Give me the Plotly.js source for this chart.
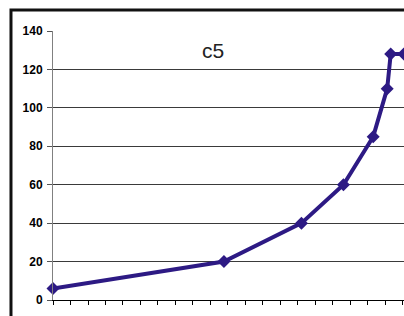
<!DOCTYPE html>
<html>
<head>
<meta charset="utf-8">
<script src="https://cdn.plot.ly/plotly-3.0.1.min.js"></script>
<style>html,body{margin:0;padding:0;background:#fff;}#chart{width:404px;height:316px;}</style>
</head>
<body>
<div id="chart"></div>
<script>
var seriesName = "c5";
var xValues = [0, 9.77, 14.2, 16.6, 18.3, 19.1, 19.3, 20.05];
var yValues = [6, 20, 40, 60, 85, 110, 128, 128];
var yTicks = [0, 20, 40, 60, 80, 100, 120, 140];

var trace = {
  x: xValues,
  y: yValues,
  type: 'scatter',
  mode: 'lines+markers',
  line: {color: '#2d1a84', width: 4},
  marker: {symbol: 'diamond', size: 10, color: '#2d1a84'},
  cliponaxis: false,
  hoverinfo: 'none'
};

var layout = {
  width: 404, height: 316,
  margin: {l: 53, r: 0, t: 31, b: 16, pad: 0},
  paper_bgcolor: '#ffffff', plot_bgcolor: '#ffffff',
  showlegend: false,
  font: {family: 'Liberation Sans, Arial, sans-serif', color: '#000'},
  xaxis: {
    range: [0, 20.06], dtick: 1, tick0: 0,
    showgrid: false, zeroline: false,
    showline: true, linecolor: '#000', linewidth: 1,
    ticks: 'outside', ticklen: 4, tickcolor: '#000', tickwidth: 1,
    showticklabels: false, fixedrange: true
  },
  yaxis: {
    range: [0, 140], tickvals: yTicks, ticktext: yTicks.map(String),
    showgrid: true, gridcolor: '#3a3a3a', gridwidth: 1,
    zeroline: false,
    showline: true, linecolor: '#808080', linewidth: 1,
    ticks: 'outside', ticklen: 5, tickcolor: '#555', tickwidth: 1,
    ticklabelstandoff: 2,
    tickfont: {family: 'Liberation Sans, Arial, sans-serif', size: 12, color: '#000', weight: 'bold'},
    fixedrange: true
  },
  annotations: [{
    text: seriesName, xref: 'paper', yref: 'paper',
    x: 0.456, y: 0.929, xanchor: 'center', yanchor: 'middle',
    showarrow: false,
    font: {family: 'Liberation Sans, Arial, sans-serif', size: 21, color: '#222'}
  }],
  shapes: [{
    type: 'rect', xref: 'paper', yref: 'paper',
    x0: -0.1197, x1: 1.3, y0: -0.3, y1: 1.078,
    line: {color: '#111', width: 3}, layer: 'below'
  }]
};

Plotly.newPlot('chart', [trace], layout, {staticPlot: true, displayModeBar: false});
</script>
</body>
</html>
